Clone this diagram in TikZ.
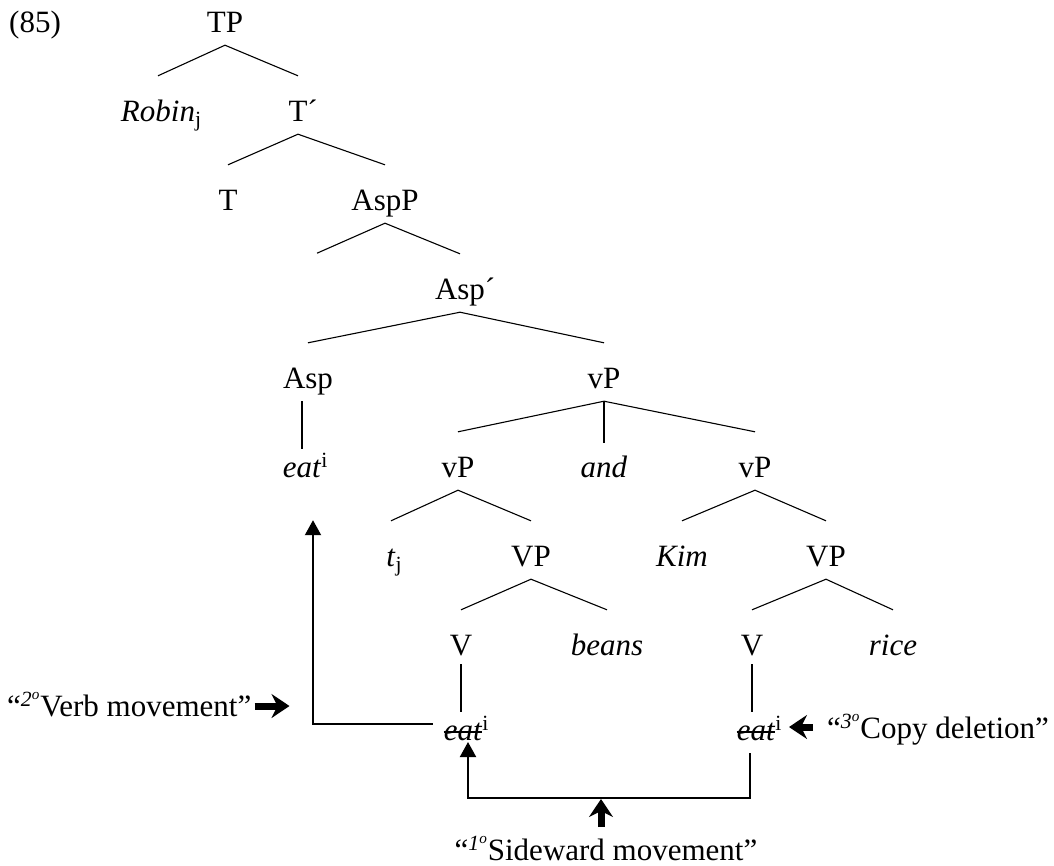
\documentclass[tikz,border=0pt]{standalone}
\usepackage{fontspec}
\setmainfont{Liberation Serif}
\usetikzlibrary{positioning,arrows.meta}

\begin{document}
\begin{tikzpicture}[
                    x=1pt, y=1pt,
                    on grid,
                    every node/.style={
                        inner sep=0pt,
                        font=\fontsize{31}{37}\selectfont
                    },
                    cat/.style={
                        text height=45pt,
                        text depth=13pt
                    },
                    branch/.style={line width=1.1pt},
                    unary/.style={branch, shorten >=-17pt},
                    strike/.style={line width=1.6pt},
                    move/.style={line width=2pt, -{Triangle[width=16pt,length=15pt]}},
                    fat/.style={line width=7pt, -{Stealth[width=24pt,length=18pt,inset=6pt]}}
                ]
                    \useasboundingbox (0,0) rectangle (1054,-865);

                    \node[anchor=base west] (num) at (9,-32) {(85)};

                    \node[cat] (tp) at (225,-16) {TP};
                    \node[cat] (robin) [below left=89pt and 67pt of tp] {\textit{Robin}\rlap{\textsubscript{j}}};
                    \node[cat] (tbar) [below right=89pt and 73pt of tp] {T\rlap{´}};
                    \node[cat] (t) [below left=89pt and 70pt of tbar] {T};
                    \node[cat] (aspp) [below right=89pt and 87pt of tbar] {AspP};
                    \path (aspp.south) ++(-68,-30) coordinate (spec);
                    \node[cat] (aspbar) [below right=89pt and 75pt of aspp] {Asp\rlap{´}};
                    \node[cat] (asp) [below left=89pt and 152pt of aspbar] {Asp};
                    \node[cat] (vp) [below right=89pt and 144pt of aspbar] {vP};
                    \node[cat] (eat) [below left=89pt and 6pt of asp] {\textit{eat}\rlap{\textsuperscript{i}}};
                    \node[cat] (vpl) [below left=89pt and 146pt of vp] {vP};
                    \node[cat] (and) [below=89pt of vp] {\textit{and}};
                    \node[cat] (vpr) [below right=89pt and 151pt of vp] {vP};
                    \node[cat] (tj) [below left=89pt and 67pt of vpl] {\textit{t}\rlap{\textsubscript{j}}};
                    \node[cat] (VPl) [below right=89pt and 73pt of vpl] {VP};
                    \node[cat] (kim) [below left=89pt and 73pt of vpr] {\textit{Kim}};
                    \node[cat] (VPr) [below right=89pt and 71pt of vpr] {VP};
                    \node[cat] (vl) [below left=89pt and 70pt of VPl] {V};
                    \node[cat] (beans) [below right=89pt and 76pt of VPl] {\textit{beans}};
                    \node[cat] (vr) [below left=89pt and 74pt of VPr] {V};
                    \node[cat] (rice) [below right=89pt and 67pt of VPr] {\textit{rice}};
                    \node[cat] (eatl) [below right=85pt and 2pt of vl] {\textit{eat}\rlap{\textsuperscript{i}}};
                    \node[cat] (eatr) [below right=85pt and 4pt of vr] {\textit{eat}\rlap{\textsuperscript{i}}};

                    % deleted copies
                    \draw[strike] ([yshift=8pt]eatl.base west) -- ([yshift=8pt]eatl.base east);
                    \draw[strike] ([yshift=8pt]eatr.base west) -- ([yshift=8pt]eatr.base east);

                    % Edges
                    \draw[branch] (tp.south) -- (robin.north);
                    \draw[branch] (tp.south) -- (tbar.north);
                    \draw[branch] (tbar.south) -- (t.north);
                    \draw[branch] (tbar.south) -- (aspp.north);
                    \draw[branch] (aspp.south) -- (spec);
                    \draw[branch] (aspp.south) -- (aspbar.north);
                    \draw[branch] (aspbar.south) -- (asp.north);
                    \draw[branch] (aspbar.south) -- (vp.north);
                    \draw[unary] (eat.north |- asp.south) -- (eat.north);
                    \draw[branch] (vp.south) -- (vpl.north);
                    \draw[unary, shorten >=-11pt] (vp.south) -- (and.north);
                    \draw[branch] (vp.south) -- (vpr.north);
                    \draw[branch] (vpl.south) -- (tj.north);
                    \draw[branch] (vpl.south) -- (VPl.north);
                    \draw[branch] (vpr.south) -- (kim.north);
                    \draw[branch] (vpr.south) -- (VPr.north);
                    \draw[branch] (VPl.south) -- (vl.north);
                    \draw[branch] (VPl.south) -- (beans.north);
                    \draw[branch] (VPr.south) -- (vr.north);
                    \draw[branch] (VPr.south) -- (rice.north);
                    \draw[unary, shorten <=-4pt] (vl.south) -- (vl.south |- eatl.north);
                    \draw[unary, shorten <=-4pt] (vr.south) -- (vr.south |- eatr.north);

                    % Movements
                    \draw[move, shorten <=11pt, shorten >=30pt] (eatl.west) -| ([xshift=11pt]eat.south);
                    \draw[move] ([xshift=-6pt]eatr.south) -- ++(0,-45) -| ([xshift=5pt,yshift=-2pt]eatl.base);

                    % Labels
                    \node[anchor=base west] (verb) at (7,-716) {“\textsuperscript{\textit{2\textsuperscript{o}}}Verb movement”};
                    \draw[fat] ([shift={(3,10)}]verb.base east) -- ++(35,0);
                    \node[anchor=base west] (copy) at (827,-738) {“\textsuperscript{\textit{3\textsuperscript{o}}}Copy deletion”};
                    \draw[fat] ([shift={(-14,11)}]copy.base west) -- ++(-24,0);
                    \node[anchor=base] (side) at (606,-860) {“\textsuperscript{\textit{1\textsuperscript{o}}}Sideward movement”};
                    \draw[fat] ([shift={(-5,33)}]side.base) -- ++(0,28);
                \end{tikzpicture}
\end{document}
